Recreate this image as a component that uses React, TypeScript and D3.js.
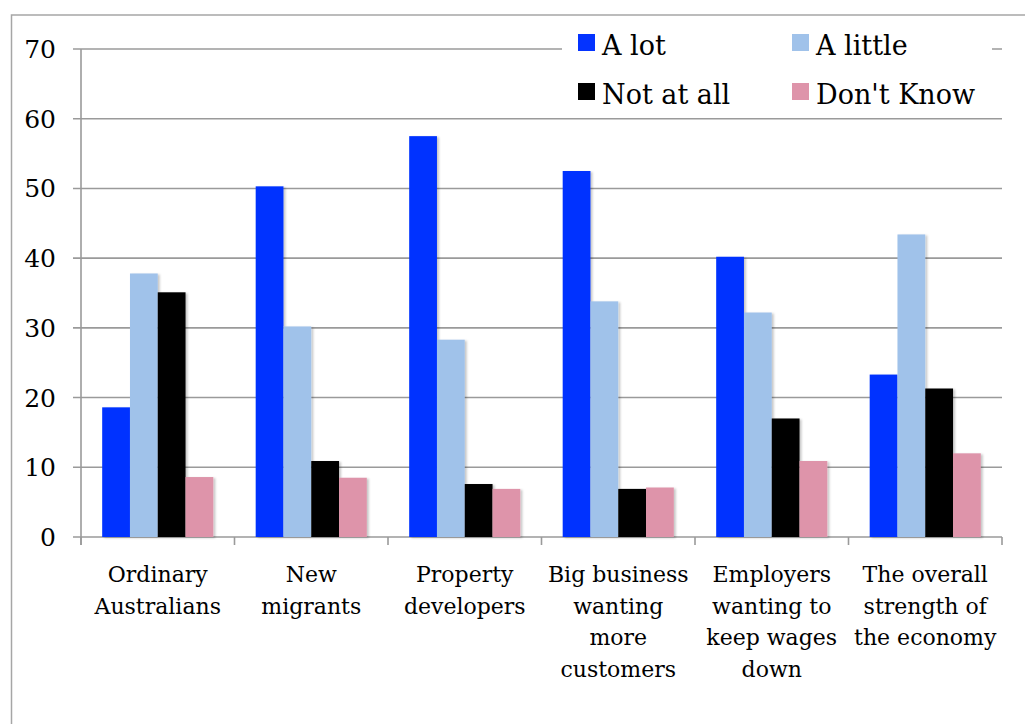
import React from "react";
import * as d3 from "d3";

const categories = [
  ["Ordinary", "Australians"],
  ["New", "migrants"],
  ["Property", "developers"],
  ["Big business", "wanting", "more", "customers"],
  ["Employers", "wanting to", "keep wages", "down"],
  ["The overall", "strength of", "the economy"],
];
const seriesNames = ["A lot", "A little", "Not at all", "Don't Know"];
const seriesColors = ["#0433FF", "#A0C2EA", "#000000", "#DE94AA"];
const aLot = [18.6, 50.3, 57.5, 52.5, 40.2, 23.3];
const aLittle = [37.8, 30.2, 28.3, 33.8, 32.2, 43.4];
const notAtAll = [35.1, 10.9, 7.6, 6.9, 17.0, 21.3];
const dontKnow = [8.6, 8.5, 6.9, 7.1, 10.9, 12.0];
const yTicks = [0, 10, 20, 30, 40, 50, 60, 70];

const W = 1025;
const H = 724;
const left = 81;
const right = 1002;
const top = 49;
const bottom = 537;
const FONT = "'DejaVu Serif', serif";

export default function App() {
  const values = [aLot, aLittle, notAtAll, dontKnow];
  const idx = categories.map((_, i) => String(i));
  const x0 = d3.scaleBand<string>().domain(idx).range([left, right]).padding(0);
  const gw = x0.bandwidth();
  const x1 = d3
    .scaleBand<string>()
    .domain(seriesNames)
    .range([gw * 0.138, gw * 0.862])
    .padding(0);
  const y = d3.scaleLinear().domain([0, 70]).range([bottom, top]);
  const grid = "#9a9a9a";
  const boundaries = d3.range(categories.length + 1).map((i) => left + i * gw);

  return (
    <svg
      width={W}
      height={H}
      style={{ position: "absolute", left: 0, top: 0, background: "#fff" }}
    >
      <defs>
        <filter id="sh" x="-20%" y="-5%" width="150%" height="115%">
          <feDropShadow dx="2" dy="1" stdDeviation="1.2" floodColor="#000" floodOpacity="0.22" />
        </filter>
      </defs>
      <rect x={11.5} y={15} width={1100} height={800} fill="#fff" stroke="#a6a6a6" strokeWidth={1.5} />
      {yTicks.map((t) => (
        <g key={t}>
          <line x1={73} x2={right} y1={y(t)} y2={y(t)} stroke={grid} strokeWidth={1.6} />
          <text
            x={56}
            y={y(t)}
            dy="0.36em"
            textAnchor="end"
            fontFamily={FONT}
            fontSize={25}
            fill="#000"
          >
            {t}
          </text>
        </g>
      ))}
      <line x1={left} x2={left} y1={top} y2={bottom + 8} stroke={grid} strokeWidth={1.6} />
      {boundaries.map((bx, i) => (
        <line key={i} x1={bx} x2={bx} y1={bottom} y2={bottom + 8} stroke={grid} strokeWidth={1.6} />
      ))}
      {categories.map((c, ci) => (
        <g key={ci} transform={`translate(${x0(String(ci))},0)`}>
          {seriesNames.map((s, si) => {
            const v = values[si][ci];
            return (
              <rect
                key={s}
                x={x1(s)}
                y={y(v)}
                width={x1.bandwidth()}
                height={y(0) - y(v)}
                fill={seriesColors[si]}
                filter="url(#sh)"
              />
            );
          })}
        </g>
      ))}
      {categories.map((lines, ci) => (
        <text
          key={ci}
          textAnchor="middle"
          fontFamily={FONT}
          fontSize={22}
          fill="#000"
        >
          {lines.map((ln, li) => (
            <tspan key={li} x={(x0(String(ci)) as number) + gw / 2} y={582 + li * 31.7}>
              {ln}
            </tspan>
          ))}
        </text>
      ))}
      <rect x={562} y={22} width={430} height={92} fill="#fff" />
      {seriesNames.map((s, si) => {
        const col = si % 2;
        const row = Math.floor(si / 2);
        const lx = col === 0 ? 578 : 792;
        const ly = row === 0 ? 34 : 83;
        return (
          <g key={s}>
            <rect x={lx} y={ly} width={17} height={17} fill={seriesColors[si]} />
            <text x={lx + 24} y={ly + 21} fontFamily={FONT} fontSize={27} fill="#000">
              {s}
            </text>
          </g>
        );
      })}
    </svg>
  );
}
